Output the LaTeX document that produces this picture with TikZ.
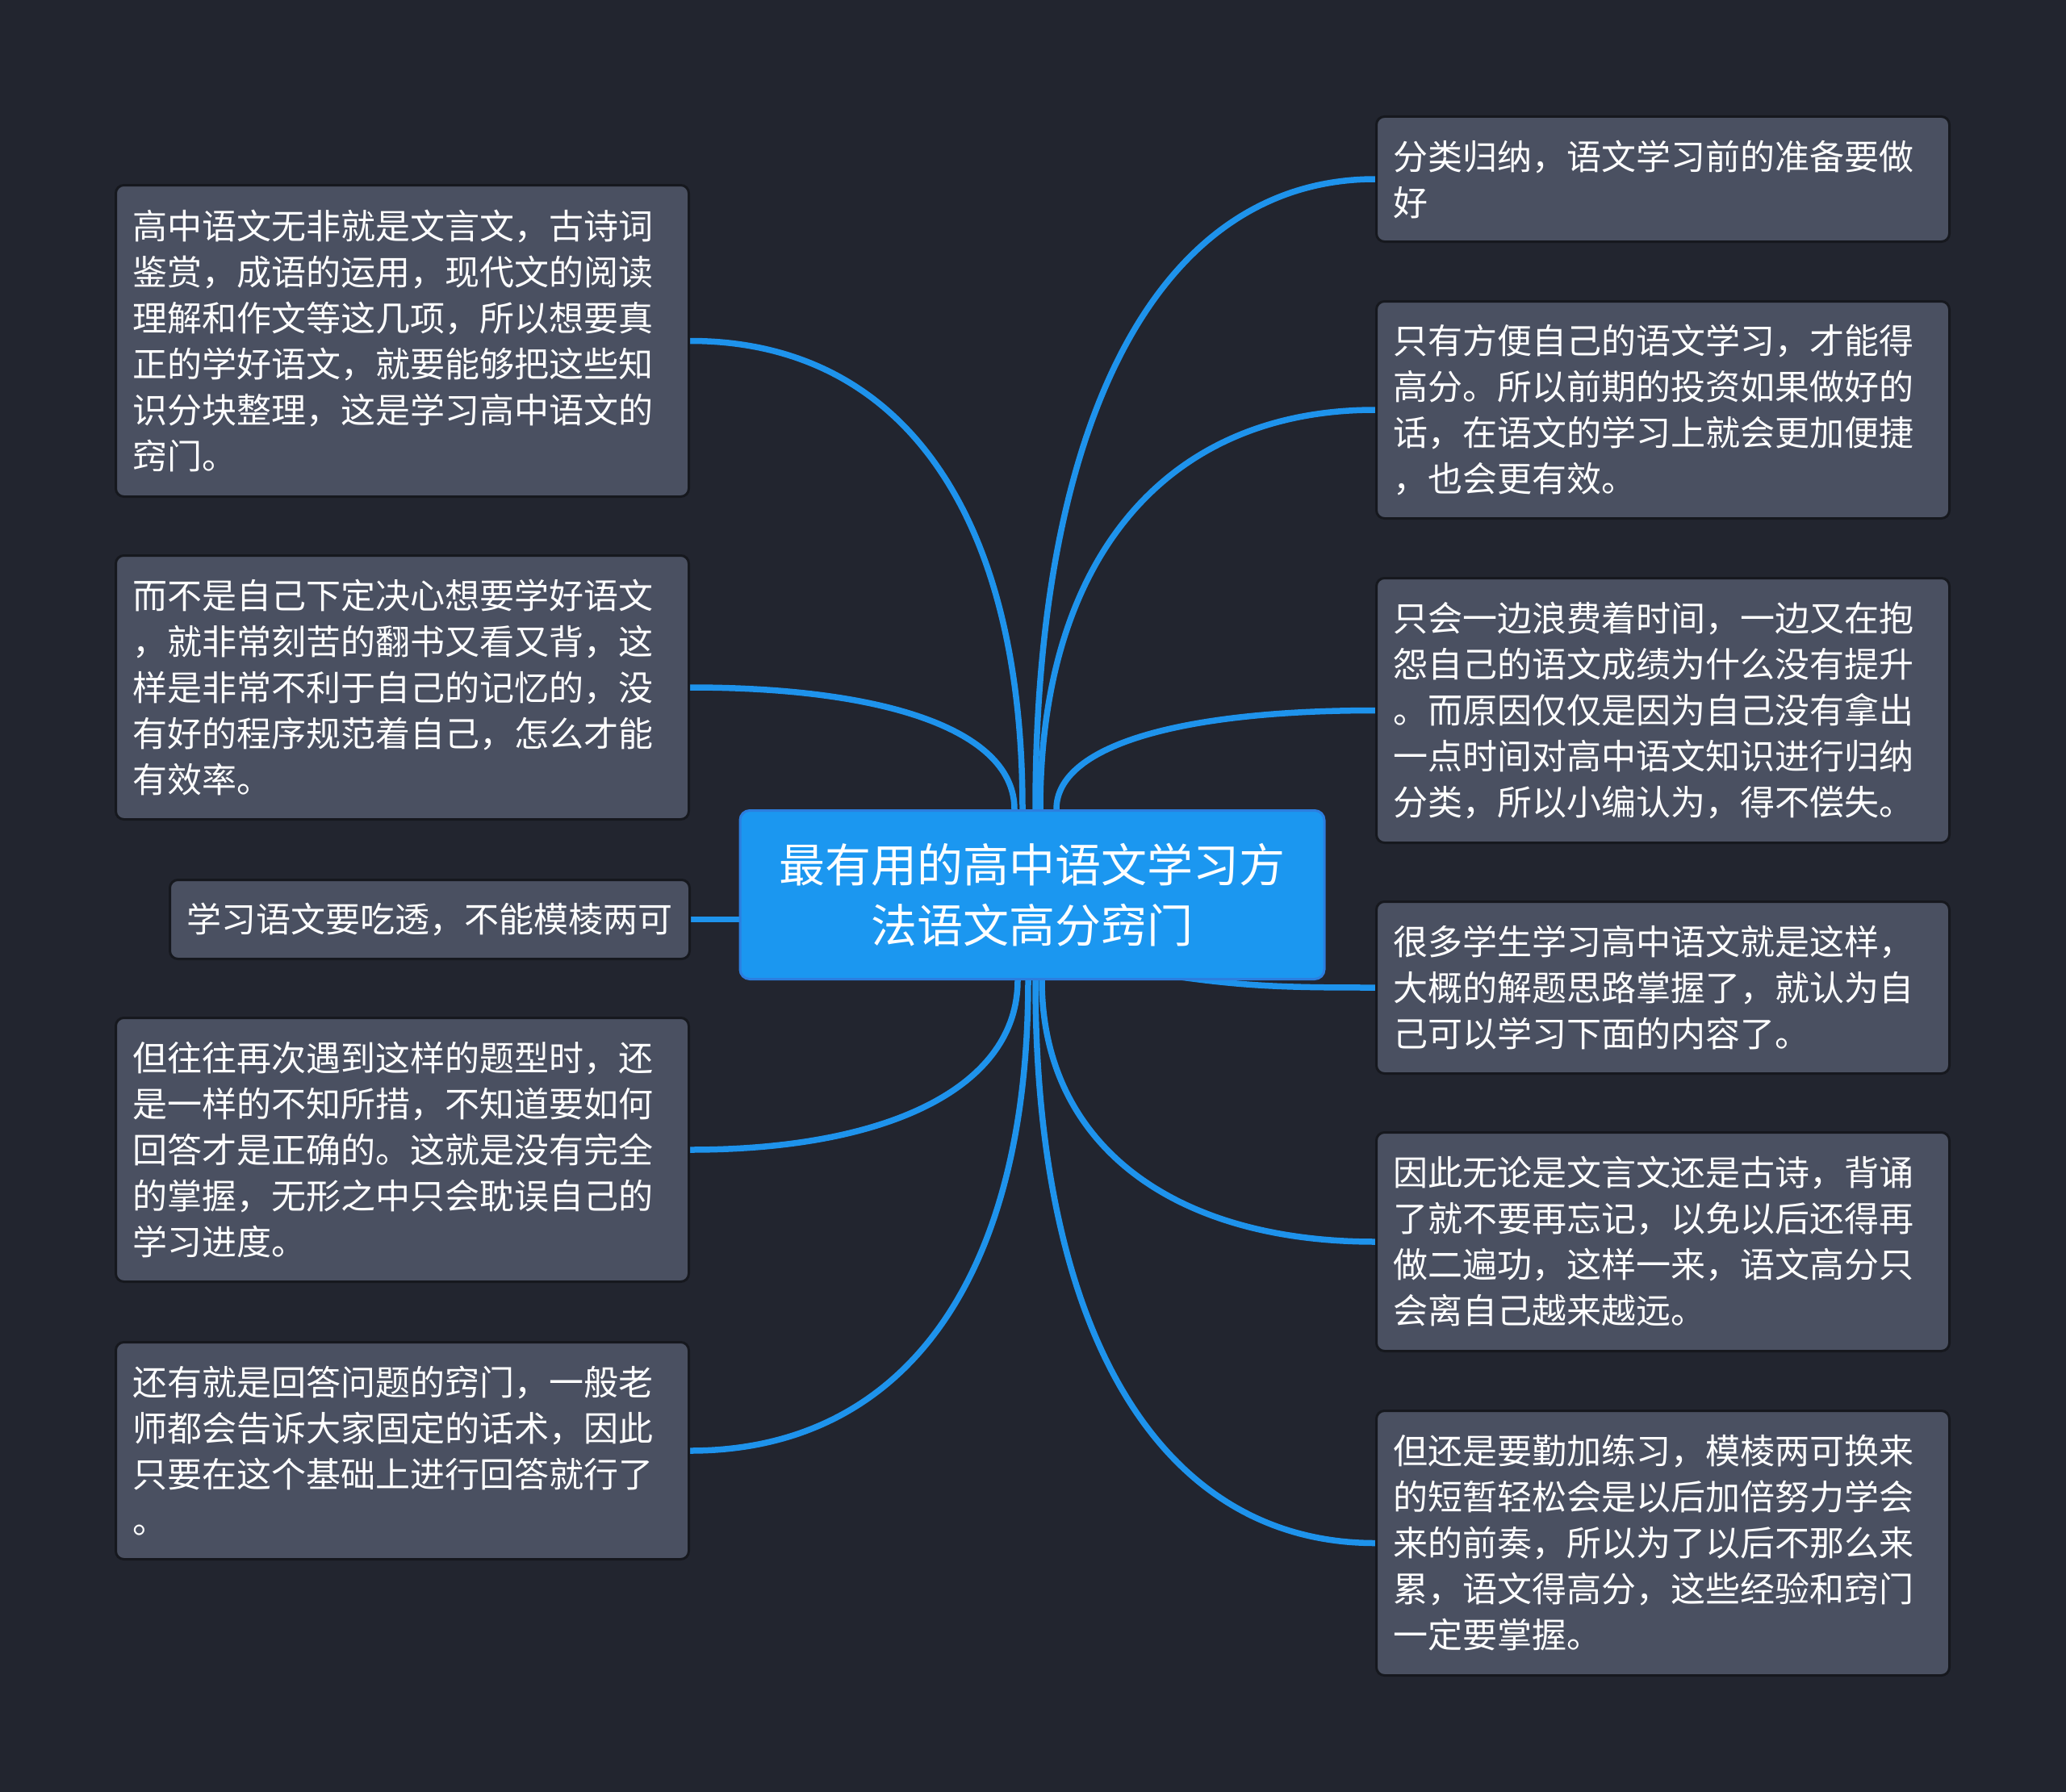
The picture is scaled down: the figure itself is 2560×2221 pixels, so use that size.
\documentclass[tikz,border=0pt]{standalone}
\usepackage{fontspec}
\newfontfamily\cjk{Noto Sans CJK SC}
\usetikzlibrary{calc}
\definecolor{bgcol}{HTML}{22252F}
\definecolor{boxfill}{HTML}{4A5061}
\definecolor{boxborder}{HTML}{16181E}
\definecolor{linecol}{HTML}{1E93EC}
\definecolor{cfill}{HTML}{1B97F0}
\definecolor{cborder}{HTML}{2C7EDF}
\pgfdeclarelayer{bg}
\pgfdeclarelayer{background}
\pgfsetlayers{bg,background,main}
\tikzset{
  leaf/.style={draw=boxborder, line width=3pt, fill=boxfill, rounded corners=10pt,
    text=white, font=\cjk\fontsize{43}{57}\selectfont, align=left,
    text width=668pt, inner xsep=21pt, inner ysep=0pt, anchor=north west,
    minimum width=710pt},
  hub/.style={draw=cborder, line width=3pt, fill=cfill, rounded corners=12pt,
    text=white, font=\cjk\fontsize{57}{75}\selectfont, align=center,
    minimum width=724pt, minimum height=209pt, inner sep=0pt},
  conn/.style={draw=linecol, line width=7.5pt}
}
\begin{document}
\begin{tikzpicture}[x=1pt,y=-1pt]
\begin{pgfonlayer}{bg}
\fill[bgcol] (0,0) rectangle (2560,2221);
\end{pgfonlayer}
\useasboundingbox (0,0) rectangle (2560,2221);

\node[hub] (c) at (1279,1109) {最有用的高中语文学习方\\法语文高分窍门};

\node[leaf, minimum height=386pt] (L1) at (142,228) {高中语文无非就是文言文，古诗词\\鉴赏，成语的运用，现代文的阅读\\理解和作文等这几项，所以想要真\\正的学好语文，就要能够把这些知\\识分块整理，这是学习高中语文的\\窍门。};
\node[leaf, minimum height=327pt] (L2) at (142,687) {而不是自己下定决心想要学好语文\\，就非常刻苦的翻书又看又背，这\\样是非常不利于自己的记忆的，没\\有好的程序规范着自己，怎么才能\\有效率。};
\node[leaf, minimum height=98pt, text width=602pt, minimum width=643pt] (L3) at (209,1089) {学习语文要吃透，不能模棱两可};
\node[leaf, minimum height=327pt] (L4) at (142,1260) {但往往再次遇到这样的题型时，还\\是一样的不知所措，不知道要如何\\回答才是正确的。这就是没有完全\\的掌握，无形之中只会耽误自己的\\学习进度。};
\node[leaf, minimum height=269pt] (L5) at (142,1662) {还有就是回答问题的窍门，一般老\\师都会告诉大家固定的话术，因此\\只要在这个基础上进行回答就行了\\。};

\node[leaf, minimum height=155pt] (R1) at (1704,143) {分类归纳，语文学习前的准备要做\\好};
\node[leaf, minimum height=269pt] (R2) at (1704,372) {只有方便自己的语文学习，才能得\\高分。所以前期的投资如果做好的\\话，在语文的学习上就会更加便捷\\，也会更有效。};
\node[leaf, minimum height=328pt] (R3) at (1704,715) {只会一边浪费着时间，一边又在抱\\怨自己的语文成绩为什么没有提升\\。而原因仅仅是因为自己没有拿出\\一点时间对高中语文知识进行归纳\\分类，所以小编认为，得不偿失。};
\node[leaf, minimum height=213pt] (R4) at (1704,1116) {很多学生学习高中语文就是这样，\\大概的解题思路掌握了，就认为自\\己可以学习下面的内容了。};
\node[leaf, minimum height=271pt] (R5) at (1704,1402) {因此无论是文言文还是古诗，背诵\\了就不要再忘记，以免以后还得再\\做二遍功，这样一来，语文高分只\\会离自己越来越远。};
\node[leaf, minimum height=328pt] (R6) at (1704,1747) {但还是要勤加练习，模棱两可换来\\的短暂轻松会是以后加倍努力学会\\来的前奏，所以为了以后不那么来\\累，语文得高分，这些经验和窍门\\一定要掌握。};

\begin{pgfonlayer}{background}
\draw[conn] (L1.east) .. controls +(260,0) and +(0,-370) .. ([xshift=-12pt]c.north);
\draw[conn] (L2.east) .. controls +(250,0) and +(0,-95) .. ([xshift=-22pt]c.north);
\draw[conn] (L3.east) -- (L3.east -| c.west);
\draw[conn] (L4.east) .. controls +(250,0) and +(0,130) .. ([xshift=-18pt]c.south);
\draw[conn] (L5.east) .. controls +(265,0) and +(0,370) .. ([xshift=-5pt]c.south);
\draw[conn] (R1.west) .. controls +(-265,0) and +(0,-490) .. ([xshift=4pt]c.north);
\draw[conn] (R2.west) .. controls +(-260,0) and +(0,-310) .. ([xshift=10pt]c.north);
\draw[conn] (R3.west) .. controls +(-245,0) and +(0,-78) .. ([xshift=30pt]c.north);
\draw[conn] ([xshift=120pt,yshift=14pt]c.south) .. controls +(130,22) and +(-120,0) .. (R4.west);
\draw[conn] (R5.west) .. controls +(-255,0) and +(0,200) .. ([xshift=12pt]c.south);
\draw[conn] (R6.west) .. controls +(-265,0) and +(0,440) .. ([xshift=4pt]c.south);
\end{pgfonlayer}
\end{tikzpicture}
\end{document}
